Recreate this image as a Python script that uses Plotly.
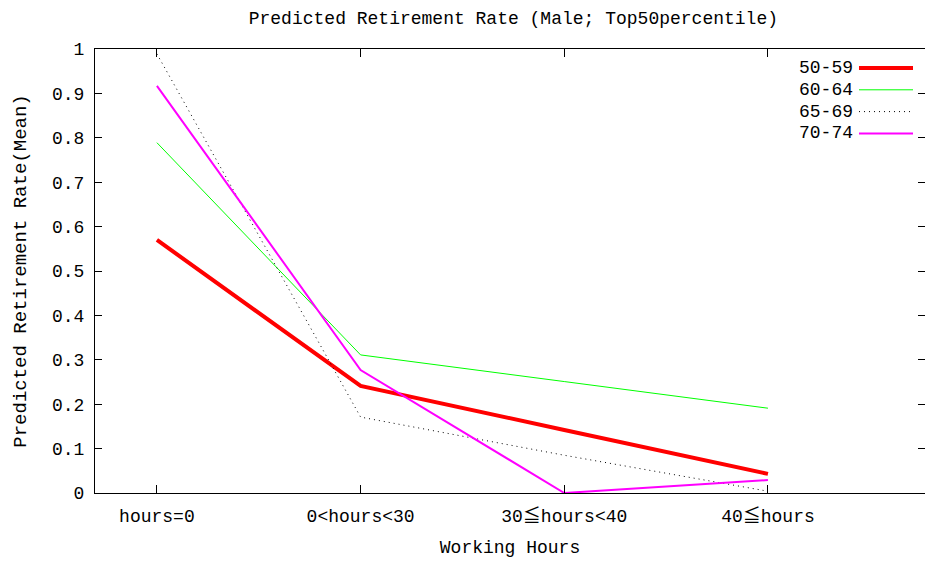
import plotly.graph_objects as go

categories = ["hours=0", "0<hours<30", "30≦hours<40", "40≦hours"]
series_names = ["50-59", "60-64", "65-69", "70-74"]
v_50_59 = [0.570, 0.241, 0.142, 0.043]
v_60_64 = [0.789, 0.311, 0.251, 0.191]
v_65_69 = [0.989, 0.171, 0.085, 0.004]
v_70_74 = [0.917, 0.277, 0.000, 0.029]
series_values = [v_50_59, v_60_64, v_65_69, v_70_74]

colors = ["#ff0000", "#00ff00", "#000000", "#ff00ff"]
widths = [4, 1, 1, 2]
dashes = ["solid", "solid", "1px,4px", "solid"]

FONT = "Liberation Mono, Noto Sans CJK JP, monospace"

xpos = list(range(len(categories)))

fig = go.Figure()
for name, vals, c, w, d in zip(series_names, series_values, colors, widths, dashes):
    fig.add_trace(go.Scatter(x=xpos, y=vals, mode="lines", name=name,
                             line=dict(color=c, width=w, dash=d),
                             showlegend=False))

# gnuplot-style legend: text left of the line sample
L, T, PW, PH = 95, 49, 830, 444
def px_x(p):
    return (p - L) / PW
def px_y(p):
    return (T + PH - p) / PH

for i, (name, c, w, d) in enumerate(zip(series_names, colors, widths, dashes)):
    yy = 68 + 21.8 * i
    fig.add_annotation(x=px_x(855), y=px_y(yy), xref="paper", yref="paper",
                       text=name, showarrow=False, xanchor="right", yanchor="middle",
                       font=dict(family=FONT, size=18, color="#000000"))
    fig.add_shape(type="line", xref="paper", yref="paper",
                  x0=px_x(859), x1=px_x(913), y0=px_y(yy), y1=px_y(yy),
                  line=dict(color=c, width=w, dash=d))

fig.update_layout(
    width=925, height=564,
    margin=dict(l=L, r=0, t=T, b=564 - T - PH),
    paper_bgcolor="white", plot_bgcolor="white",
    font=dict(family=FONT, size=18, color="#000000"),
    title=dict(text="Predicted Retirement Rate (Male; Top50percentile)",
               x=0.555, xanchor="center", y=0.968, yanchor="middle",
               font=dict(family=FONT, size=18)),
    showlegend=False,
)
fig.update_xaxes(
    range=[-0.304, 3.771], tickmode="array", tickvals=xpos, ticktext=categories,
    showgrid=False, zeroline=False, showline=True, linecolor="#000000", linewidth=1,
    mirror="ticks", ticks="inside", ticklen=8, tickcolor="#000000",
    ticklabelstandoff=6,
    title=dict(text="Working Hours", standoff=14, font=dict(family=FONT, size=18)),
)
fig.update_yaxes(
    range=[0, 1], dtick=0.1, tick0=0,
    showgrid=False, zeroline=False, showline=True, linecolor="#000000", linewidth=1,
    mirror="ticks", ticks="inside", ticklen=7, tickcolor="#000000",
    ticklabelstandoff=6,
    title=dict(text="Predicted Retirement Rate(Mean)", standoff=20,
               font=dict(family=FONT, size=19)),
)

fig.write_html("out.html")
